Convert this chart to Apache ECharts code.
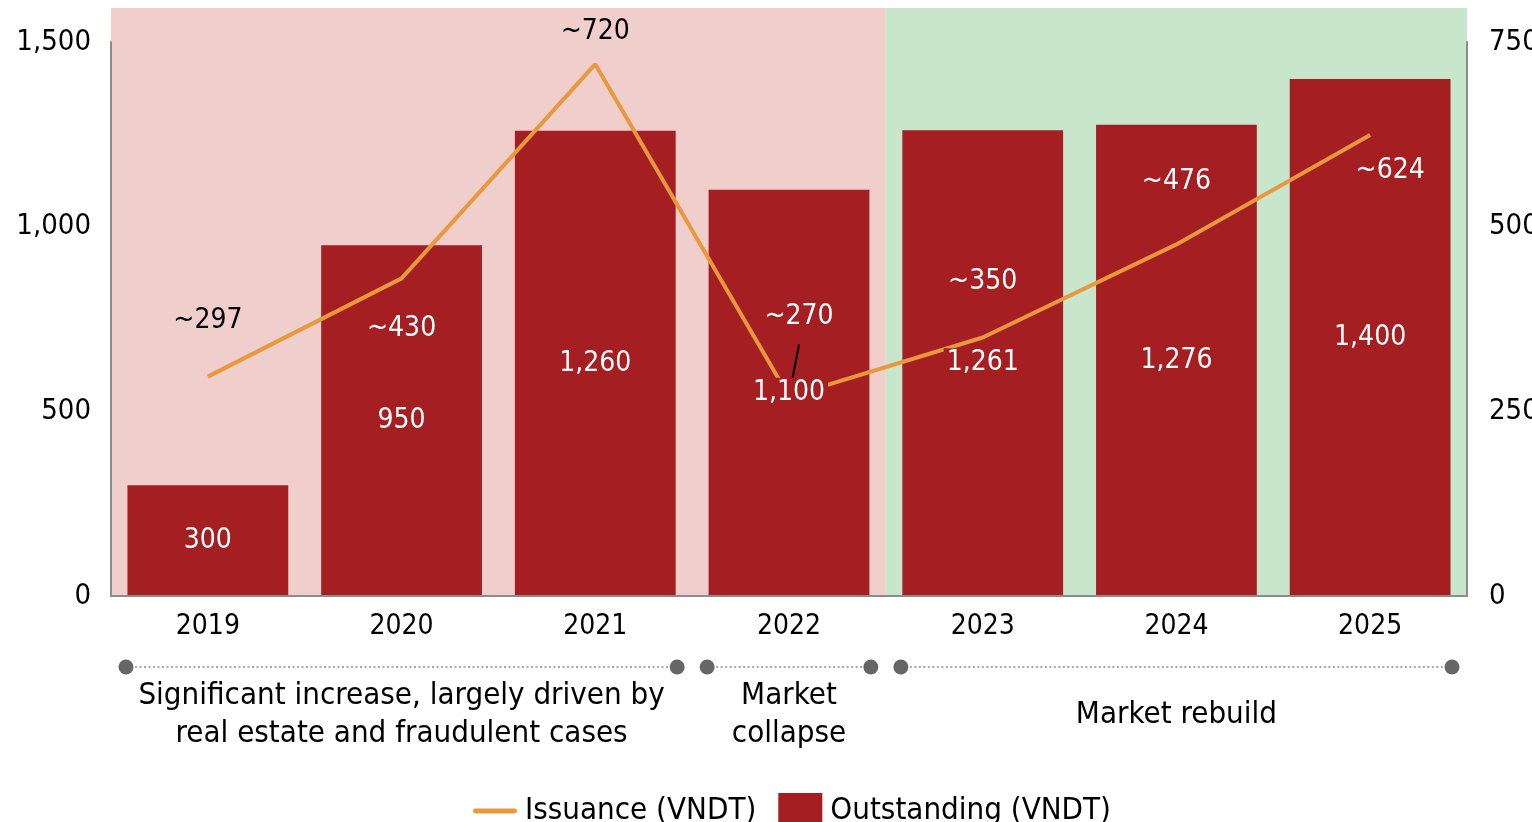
<!DOCTYPE html>
<html>
<head>
<meta charset="utf-8">
<style>
html,body{margin:0;padding:0;background:#fff;}
#c{width:1532px;height:822px;}
</style>
<script src="https://cdn.jsdelivr.net/npm/echarts@6/dist/echarts.min.js"></script>
</head>
<body>
<div id="c"></div>
<script>
// ---- data ----
const years = ['2019', '2020', '2021', '2022', '2023', '2024', '2025'];
const outstanding = [300, 950, 1260, 1100, 1261, 1276, 1400];
const issuance = [297, 430, 720, 270, 350, 476, 624];
const leftTicks = [0, 500, 1000, 1500];
const rightTicks = [0, 250, 500, 750];
const shadeGroup = [0, 0, 0, 0, 1, 1, 1];
const phaseNames = ['Significant increase, largely driven by\nreal estate and fraudulent cases', 'Market\ncollapse', 'Market rebuild'];
const phaseStart = [0, 3, 4];
const phaseEnd = [2, 3, 6];
const seriesNames = ['Issuance (VNDT)', 'Outstanding (VNDT)'];

// ---- styles ----
const FONT = '"DejaVu Sans Condensed", "DejaVu Sans", sans-serif';
const FS = 28;      // numbers
const FS_TXT = 31;  // words
const RED = '#A51F22';
const ORANGE = '#E8983D';
const shadeColors = ['#F0CECB', '#C8E6CC'];
const G = {left: 111, right: 65, top: 42, bottom: 226};
const W = 1532, H = 822;

const issLabelCfg = [
  {position: 'top', distance: 42, color: '#000'},
  {position: 'bottom', distance: 36, color: '#fff'},
  {position: 'top', distance: 18, color: '#000'},
  {position: 'top', distance: 66, color: '#fff', offset: [10, 0]},
  {position: 'top', distance: 42, color: '#fff'},
  {position: 'top', distance: 49, color: '#fff'},
  {position: 'bottom', distance: 22, color: '#fff', offset: [20, 0]}
];

const fmt = v => v.toLocaleString('en-US');

// shaded runs built from shadeGroup
const shadeAreas = [];
for (let i = 0; i < shadeGroup.length;) {
  let j = i;
  while (j + 1 < shadeGroup.length && shadeGroup[j + 1] === shadeGroup[i]) j++;
  shadeAreas.push([{xAxis: i, yAxis: 0, itemStyle: {color: shadeColors[shadeGroup[i]]}}, {xAxis: j + 1, yAxis: 1}]);
  i = j + 1;
}

const chart = echarts.init(document.getElementById('c'), null, {renderer: 'canvas'});

const plotW = W - G.left - G.right;
const catW = plotW / years.length;
const graphics = [];
const annY = 667;
for (let i = 0; i < phaseNames.length; i++) {
  const x0 = G.left + phaseStart[i] * catW + 15;
  const x1 = G.left + (phaseEnd[i] + 1) * catW - 15;
  graphics.push({type: 'line', shape: {x1: x0, y1: annY, x2: x1, y2: annY},
    style: {stroke: '#8a8a8a', lineWidth: 1.5, lineDash: [2, 2.5]}, z: 5});
  graphics.push({type: 'circle', shape: {cx: x0, cy: annY, r: 7.5}, style: {fill: '#666'}, z: 6});
  graphics.push({type: 'circle', shape: {cx: x1, cy: annY, r: 7.5}, style: {fill: '#666'}, z: 6});
  graphics.push({type: 'text', x: (x0 + x1) / 2, y: 715, z: 6,
    style: {text: phaseNames[i], fill: '#000', font: FS_TXT + 'px ' + FONT,
      align: 'center', verticalAlign: 'middle', lineHeight: 38}});
}

const axisLineStyle = {show: true, lineStyle: {color: '#8c8c8c', width: 2}};

const option = {
  animation: false,
  textStyle: {fontFamily: FONT},
  graphic: graphics,
  grid: [
    {left: G.left, right: G.right, top: G.top, bottom: G.bottom, containLabel: false, outerBoundsMode: 'none'},
    {left: G.left, right: G.right, top: 8, bottom: G.bottom, containLabel: false, outerBoundsMode: 'none'}
  ],
  legend: {
    data: [
      {name: seriesNames[0], icon: 'path://M2,0 L42,0 A2.5,2.5 0 0 1 42,5 L2,5 A2.5,2.5 0 0 1 2,0 Z', itemStyle: {color: ORANGE}},
      {name: seriesNames[1], icon: 'rect', itemStyle: {color: RED}}
    ],
    left: 468, top: 788,
    itemWidth: 44, itemHeight: 36, itemGap: 22,
    textStyle: {fontSize: FS_TXT, fontFamily: FONT, color: '#000', padding: [0, 0, 0, 3]}
  },
  xAxis: [
    {type: 'category', gridIndex: 0, data: years, z: 5,
      axisLine: axisLineStyle,
      axisTick: {show: false},
      axisLabel: {fontSize: FS, color: '#000', margin: 17, fontFamily: FONT}},
    {type: 'value', gridIndex: 1, min: 0, max: years.length, show: false}
  ],
  yAxis: [
    {type: 'value', gridIndex: 0, z: 5, min: leftTicks[0], max: leftTicks[leftTicks.length - 1],
      interval: leftTicks[1] - leftTicks[0],
      axisLine: axisLineStyle,
      axisTick: {show: false}, splitLine: {show: false},
      axisLabel: {fontSize: 29, color: '#000', margin: 20, fontFamily: FONT, formatter: fmt}},
    {type: 'value', gridIndex: 0, z: 5, position: 'right', min: rightTicks[0], max: rightTicks[rightTicks.length - 1],
      interval: rightTicks[1] - rightTicks[0],
      axisLine: axisLineStyle,
      axisTick: {show: false}, splitLine: {show: false},
      axisLabel: {fontSize: 29, color: '#000', margin: 22, fontFamily: FONT, formatter: fmt}},
    {type: 'value', gridIndex: 1, min: 0, max: 1, show: false}
  ],
  series: [
    {
      name: 'bg', type: 'line', xAxisIndex: 1, yAxisIndex: 2, z: -1,
      silent: true, symbol: 'none', lineStyle: {width: 0}, data: [],
      markArea: {silent: true, data: shadeAreas}
    },
    {
      name: seriesNames[1], type: 'bar', xAxisIndex: 0, yAxisIndex: 0, z: 2,
      barCategoryGap: '17%',
      itemStyle: {color: RED},
      data: outstanding
    },
    {
      name: seriesNames[0], type: 'line', xAxisIndex: 0, yAxisIndex: 1, z: 3,
      symbol: 'circle', symbolSize: 0.1,
      lineStyle: {color: ORANGE, width: 4},
      itemStyle: {color: ORANGE},
      data: issuance.map((v, i) => ({
        value: v,
        label: Object.assign({show: true, fontSize: FS, fontFamily: FONT,
          formatter: p => '~' + p.value}, issLabelCfg[i]),
        labelLine: i === 3 ? {show: true, lineStyle: {color: '#000', width: 2}} : {show: false}
      }))
    },
    {
      name: 'outLabels', type: 'bar', xAxisIndex: 0, yAxisIndex: 0, z: 10,
      barCategoryGap: '17%', barGap: '-100%', silent: true,
      itemStyle: {color: 'rgba(0,0,0,0)'},
      label: {show: true, position: 'inside', color: '#fff', fontSize: FS, fontFamily: FONT,
        backgroundColor: RED, padding: [1, 3], formatter: p => fmt(p.value)},
      data: outstanding
    }
  ]
};
chart.setOption(option);
</script>
</body>
</html>
